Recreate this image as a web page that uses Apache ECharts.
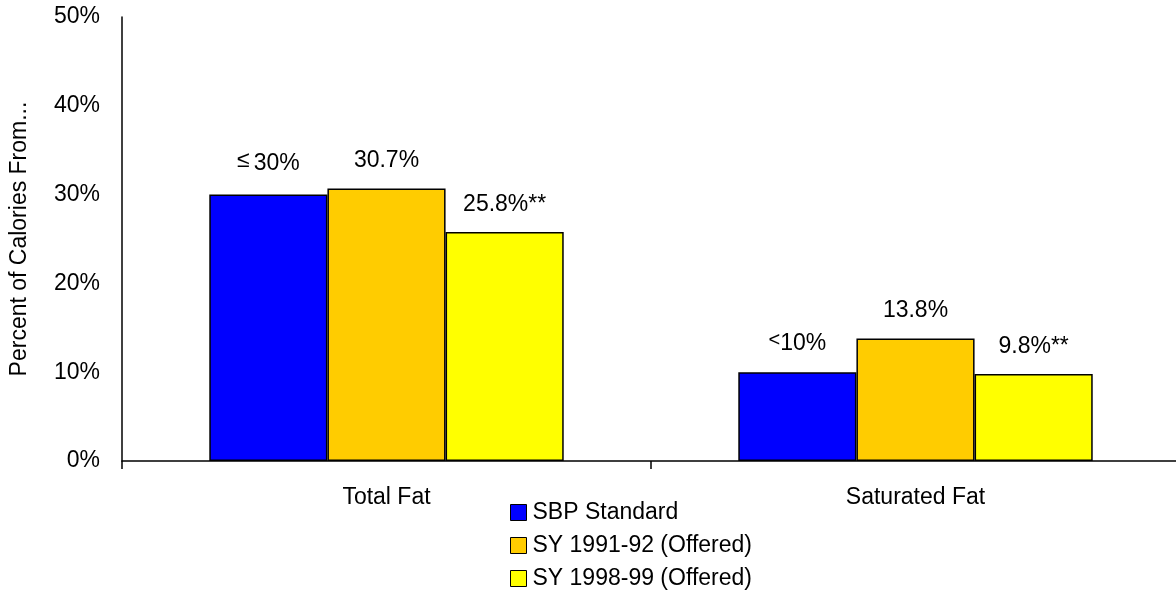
<!DOCTYPE html>
<html>
<head>
<meta charset="utf-8">
<script src="https://cdn.jsdelivr.net/npm/echarts@6/dist/echarts.min.js"></script>
<style>
  html, body { margin: 0; padding: 0; background: #fff; }
  #chart { width: 1176px; height: 592px; }
</style>
</head>
<body>
<div id="chart"></div>
<script>
const categories = ['Total Fat', 'Saturated Fat'];
const seriesNames = ['SBP Standard', 'SY 1991-92 (Offered)', 'SY 1998-99 (Offered)'];
const standardValues = [30, 10];
const offered9192 = [30.7, 13.8];
const offered9899 = [25.8, 9.8];
const standardLabels = ['{le|≤}30%', '{lt|<}10%'];
const labels9192 = ['30.7%', '13.8%'];
const labels9899 = ['25.8%**', '9.8%**'];
const colors = ['#0000FF', '#FFCC00', '#FFFF00'];

const font = 'Liberation Sans, Arial, sans-serif';
const fs = 23;
const chart = echarts.init(document.getElementById('chart'));

const makeSeries = (name, values, texts, color) => ({
  name,
  type: 'bar',
  data: values,
  barGap: '0%',
  barCategoryGap: '33%',
  itemStyle: { color, borderColor: '#000', borderWidth: 1.5 },
  label: {
    show: true,
    position: 'top',
    distance: 16,
    color: '#000',
    fontFamily: font,
    fontSize: fs,
    formatter: (p) => texts[p.dataIndex],
    rich: {
      le: { fontSize: 23, fontFamily: font, color: '#000', verticalAlign: 'top', padding: [0, 4, 6, 0] },
      lt: { fontSize: 20, fontFamily: font, color: '#000', verticalAlign: 'top', padding: [0, 0, 6, 0] },
    },
  },
});

chart.setOption({
  animation: false,
  color: colors,
  grid: { left: 122, right: -4, top: 17, bottom: 131, containLabel: false, outerBoundsMode: 'none' },
  legend: {
    orient: 'vertical',
    left: 510,
    top: 501,
    padding: 0,
    itemWidth: 16,
    itemHeight: 16,
    itemGap: 10,
    icon: 'rect',
    textStyle: { fontFamily: font, fontSize: fs, color: '#000', padding: [0, 0, 0, 1] },
    itemStyle: { borderColor: '#000', borderWidth: 1 },
    data: seriesNames,
  },
  xAxis: {
    type: 'category',
    data: categories,
    axisLine: { lineStyle: { color: '#000', width: 1.5 } },
    axisTick: { show: true, length: 8, lineStyle: { color: '#000', width: 1.5 } },
    axisLabel: { color: '#000', fontFamily: font, fontSize: fs, margin: 25 },
  },
  yAxis: {
    type: 'value',
    min: 0,
    max: 50,
    interval: 10,
    name: 'Percent of Calories From...',
    nameLocation: 'middle',
    nameGap: 91,
    nameTextStyle: { color: '#000', fontFamily: font, fontSize: fs },
    axisLine: { show: true, lineStyle: { color: '#000', width: 1.5 } },
    axisTick: { show: false },
    splitLine: { show: false },
    axisLabel: { color: '#000', fontFamily: font, fontSize: fs, margin: 22, formatter: '{value}%' },
  },
  series: [
    makeSeries(seriesNames[0], standardValues, standardLabels, colors[0]),
    makeSeries(seriesNames[1], offered9192, labels9192, colors[1]),
    makeSeries(seriesNames[2], offered9899, labels9899, colors[2]),
  ],
});
</script>
</body>
</html>
